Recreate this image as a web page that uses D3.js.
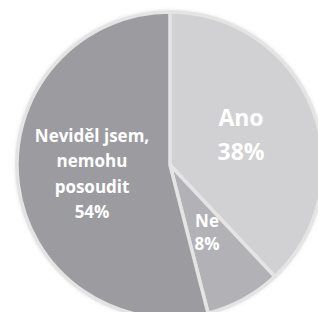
<!DOCTYPE html>
<html><head><meta charset="utf-8">
<script src="https://cdn.jsdelivr.net/npm/d3@7"></script>
<style>html,body{margin:0;padding:0;background:#fff;overflow:hidden}</style>
</head><body>
<script>
const categories = ["Ano", "Ne", "Neviděl jsem, nemohu posoudit"];
const values = [38, 8, 54];
const labelLines = [["Ano", "38%"], ["Ne", "8%"], ["Neviděl jsem,", "nemohu", "posoudit", "54%"]];
const colors = ["#d1d1d3", "#b2b2b6", "#9c9ca0"];

const W = 318, H = 312, cx = 170, cy = 165, R = 153;
const svg = d3.select("body").append("svg").attr("width", W).attr("height", H);
const defs = svg.append("defs");
const f = defs.append("filter").attr("id", "sh").attr("x", "-10%").attr("y", "-10%").attr("width", "120%").attr("height", "120%");
f.append("feDropShadow").attr("dx", 0).attr("dy", 0).attr("stdDeviation", 2.5).attr("flood-color", "#000").attr("flood-opacity", 0.25);

const pie = d3.pie().sort(null).value(d => d)(values);
const arc = d3.arc().innerRadius(0).outerRadius(R);
const g = svg.append("g").attr("transform", `translate(${cx},${cy})`);
g.append("circle").attr("r", R).attr("fill", "#ccc").attr("filter", "url(#sh)");
g.selectAll("path").data(pie).join("path")
  .attr("d", arc).attr("fill", (d, i) => colors[i])
  .attr("stroke", "#e4e4e4").attr("stroke-width", 3.5).attr("stroke-linejoin", "round");

const labelPos = [[71, -39, 23, 34], [37, 62, 17, 23], [-78, -23, 17, 25.3]];
pie.forEach((d, i) => {
  const [x, y, fs, lh] = labelPos[i];
  const t = g.append("text").attr("text-anchor", "middle")
    .attr("font-family", "Open Sans, sans-serif").attr("font-weight", "bold")
    .attr("font-size", fs).attr("fill", "#fff");
  labelLines[i].forEach((ln, k) => {
    t.append("tspan").attr("x", x).attr("y", y + k * lh).text(ln);
  });
});
</script>
</body></html>
